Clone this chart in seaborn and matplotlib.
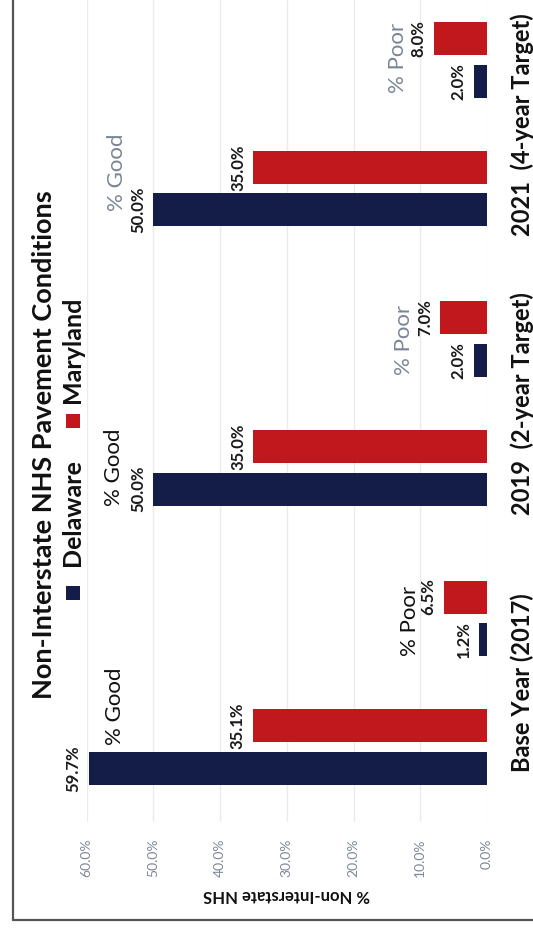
import matplotlib
matplotlib.use("Agg")
import numpy as np
import pandas as pd
import seaborn as sns
import matplotlib.pyplot as plt
from matplotlib.patches import Rectangle
from matplotlib.lines import Line2D
from matplotlib.ticker import FuncFormatter

# ---------------- data ----------------
categories = ["Base Year (2017)", "2019  (2-year Target)", "2021  (4-year Target)"]
conditions = ["% Good", "% Poor"]
states = ["Delaware", "Maryland"]
delaware = [59.7, 1.2, 50.0, 2.0, 50.0, 2.0]
maryland = [35.1, 6.5, 35.0, 7.0, 35.0, 8.0]
value_ticks = [0, 10, 20, 30, 40, 50, 60]
title = "Non-Interstate NHS Pavement Conditions"
axis_title = "% Non-Interstate NHS"

colors = {"Delaware": "#131d47", "Maryland": "#c0181d"}

# ---------------- layout ----------------
W, H = 533, 930
GROUP_STEP = 2.169          # distance between year groups (in slot units)
slot_pos = [ci * GROUP_STEP + k for ci in range(len(categories)) for k in range(len(conditions))]

rows = []
for state, vals in zip(states, [delaware, maryland]):
    for i, v in enumerate(vals):
        rows.append(dict(state=state, value=v, pos=slot_pos[i],
                         category=categories[i // 2], condition=conditions[i % 2]))
df = pd.DataFrame(rows)

sns.set_theme(style="white")
plt.rcParams['font.family'] = ['Lato', 'DejaVu Sans']

fig = plt.figure(figsize=(W / 100, H / 100), dpi=100)


def fx(x):
    return x / W


def fy(y):
    return 1 - y / H


ax = fig.add_axes([fx(86.5), fy(822), (487 - 86.5) / W, 822 / H])
sns.barplot(data=df, x="value", y="pos", hue="state", hue_order=states,
            palette=colors, orient="y", native_scale=True, width=0.66, gap=0.224,
            legend=False, ax=ax, saturation=1, linewidth=0, errorbar=None)

ax.set_xlim(60, 0)
ax.set_ylim(-0.583, 5.804)
ax.set_xticks(value_ticks)
ax.xaxis.set_major_formatter(FuncFormatter(lambda v, p: f"{v:.1f}%"))
ax.tick_params(axis='x', length=0, pad=12, labelsize=10, labelcolor='#7f8898',
               labelrotation=90)

group_centers = [ci * GROUP_STEP + 0.5 for ci in range(len(categories))]
ax.yaxis.tick_right()
ax.set_yticks(group_centers, labels=categories)
ax.tick_params(axis='y', length=0, pad=17, labelsize=17, labelcolor='#111111',
               labelrotation=90)
for lab in ax.get_yticklabels():
    lab.set_fontweight('bold')
    lab.set_va('center')

ax.xaxis.grid(True, color='#ebebeb', lw=1)
ax.yaxis.grid(False)
for s in ax.spines.values():
    s.set_visible(False)
ax.set_ylabel("")
ax.set_xlabel(axis_title, rotation=180, fontsize=12, fontweight='bold', color='#111111')
ax.xaxis.set_label_coords(0.5, -(895 - 822) / 822)
ax.xaxis.label.set_va('center')

# value labels
for cont in ax.containers:
    for patch in cont:
        v = patch.get_width()
        yc = patch.get_y() + patch.get_height() / 2
        ax.annotate(f"{v:.1f}%", xy=(v, yc), xytext=(-15, 0), textcoords='offset pixels',
                    rotation=90, ha='center', va='center', fontsize=12,
                    fontweight='bold', color='#1a1a1a')

# condition annotations
notes = [
    ("% Good", 115, 706, '#111111'),
    ("% Poor", 410, 621, '#111111'),
    ("% Good", 114, 467, '#111111'),
    ("% Poor", 404, 340, '#7a8595'),
    ("% Good", 117, 172, '#7a8595'),
    ("% Poor", 398, 58, '#7a8595'),
]
for txt, x, y, c in notes:
    fig.text(fx(x), fy(y), txt, rotation=90, ha='center', va='center',
             fontsize=16, color=c)

# title
fig.text(fx(44), fy(445), title, rotation=90, ha='center', va='center',
         fontsize=19.5, fontweight='bold', color='#111111')

# legend (rotated, drawn manually)
leg = [("Delaware", 593, 513), ("Maryland", 421, 350)]
for name, ysq, ytx in leg:
    s = 14
    fig.add_artist(Rectangle((fx(73 - s / 2), fy(ysq + s / 2)), s / W, s / H,
                             transform=fig.transFigure, color=colors[name], lw=0))
    fig.text(fx(73), fy(ytx), name, rotation=90, ha='center', va='center',
             fontsize=18, fontweight='bold', color='#111111')

# frame of the scanned chart
fig.add_artist(Line2D([fx(12.5), fx(12.5)], [fy(920), 1], transform=fig.transFigure,
                      color='#555555', lw=1.6))
fig.add_artist(Line2D([fx(12.5), 1], [fy(920), fy(920)], transform=fig.transFigure,
                      color='#555555', lw=1.6))

fig.savefig("out.png", dpi=100)
